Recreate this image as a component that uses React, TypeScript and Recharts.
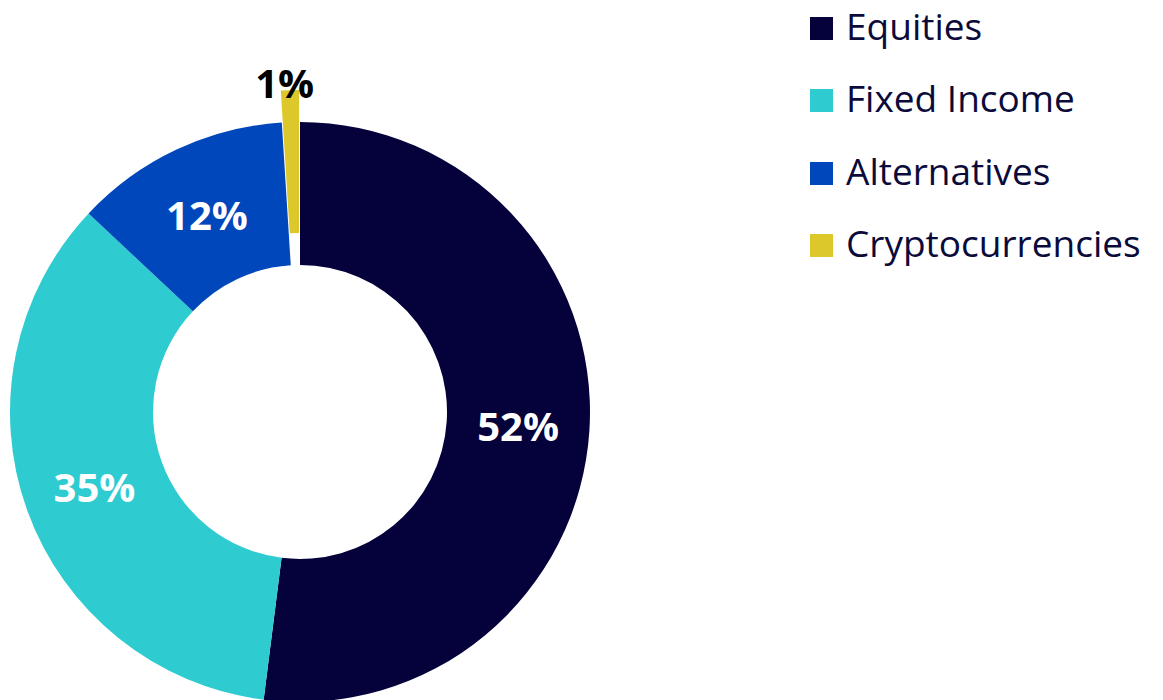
import { PieChart, Pie, Cell, Legend } from "recharts";

const categories = ["Equities", "Fixed Income", "Alternatives", "Cryptocurrencies"];
const shares = [52, 35, 12, 1];
const colors = ["#05013a", "#2ecbd1", "#0047bb", "#dcc82a"];
const explodedCategory = "Cryptocurrencies";

const data = categories.map((name, i) => ({ name, value: shares[i] }));

const CX = 300;
const CY = 412;
const INNER = 147;
const OUTER = 290;
const EXPLODE = 32;
const RADIAN = Math.PI / 180;
const FONT = "'Open Sans', sans-serif";

// shift the exploded slice outward along its mid angle
const explodedIdx = categories.indexOf(explodedCategory);
const total = shares.reduce((a, b) => a + b, 0);
const before = shares.slice(0, explodedIdx).reduce((a, b) => a + b, 0);
const explodedMid = 90 - (360 * (before + shares[explodedIdx] / 2)) / total;
const offX = EXPLODE * Math.cos(explodedMid * RADIAN);
const offY = -EXPLODE * Math.sin(explodedMid * RADIAN);

function innerLabel({ cx, cy, midAngle, innerRadius, outerRadius, value, index }: any) {
  if (index === explodedIdx) return null;
  const r = (innerRadius + outerRadius) / 2;
  const x = cx + r * Math.cos(-midAngle * RADIAN);
  const y = cy + r * Math.sin(-midAngle * RADIAN);
  return (
    <text x={x} y={y} fill="#ffffff" textAnchor="middle" dominantBaseline="central"
      style={{ fontFamily: FONT, fontWeight: 700, fontSize: 40 }}>
      {value}%
    </text>
  );
}

function explodedLabel({ cx, cy, midAngle, outerRadius, value, index }: any) {
  if (index !== explodedIdx) return null;
  const r = outerRadius + 8;
  const x = cx + r * Math.cos(-midAngle * RADIAN) - 5;
  const y = cy + r * Math.sin(-midAngle * RADIAN);
  return (
    <text x={x} y={y} fill="#000000" textAnchor="middle" dominantBaseline="central"
      style={{ fontFamily: FONT, fontWeight: 700, fontSize: 40 }}>
      {value}%
    </text>
  );
}

function LegendContent() {
  return (
    <div style={{ fontFamily: FONT, paddingTop: 4 }}>
      {categories.map((c, i) => (
        <div key={c} style={{ display: "flex", alignItems: "center", height: 44, marginBottom: 28.5 }}>
          <span style={{ width: 23, height: 23, background: colors[i], marginRight: 13, marginTop: 4 }} />
          <span style={{ fontSize: 37, color: "#0b0b3b", lineHeight: 1.2 }}>{c}</span>
        </div>
      ))}
    </div>
  );
}

export default function App() {
  return (
    <div style={{ position: "absolute", top: 0, left: 0, background: "#fff" }}>
      <PieChart width={1163} height={700} margin={{ top: 0, right: 0, bottom: 0, left: 0 }}>
        <Pie data={data} dataKey="value" nameKey="name" cx={CX} cy={CY}
          innerRadius={INNER} outerRadius={OUTER} startAngle={90} endAngle={-270}
          stroke="none" label={innerLabel} labelLine={false} isAnimationActive={false}>
          {data.map((d, i) => (
            <Cell key={d.name} fill={i === explodedIdx ? "transparent" : colors[i]} />
          ))}
        </Pie>
        <Pie data={data} dataKey="value" nameKey="name" cx={CX + offX} cy={CY + offY}
          innerRadius={INNER} outerRadius={OUTER} startAngle={90} endAngle={-270}
          stroke="none" label={explodedLabel} labelLine={false} legendType="none" isAnimationActive={false}>
          {data.map((d, i) => (
            <Cell key={d.name} fill={i === explodedIdx ? colors[i] : "transparent"} />
          ))}
        </Pie>
        <Legend layout="vertical" verticalAlign="top" align="right"
          wrapperStyle={{ top: 0, left: 810, right: "auto" }} content={<LegendContent />} />
      </PieChart>
    </div>
  );
}
